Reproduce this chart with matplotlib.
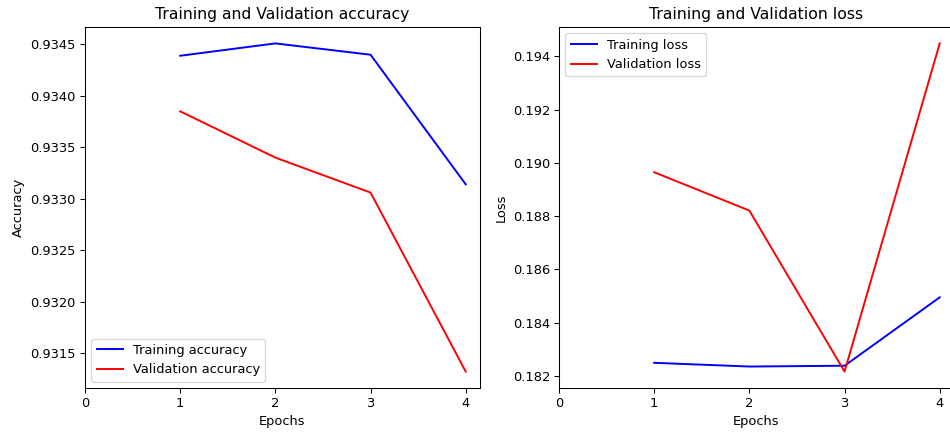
import matplotlib
matplotlib.use("Agg")
import matplotlib.pyplot as plt
from matplotlib.ticker import MaxNLocator

epochs = [1, 2, 3, 4]
train_acc = [0.93439, 0.93451, 0.93440, 0.93314]
val_acc = [0.93385, 0.93340, 0.93306, 0.93132]
train_loss = [0.18249, 0.18235, 0.18238, 0.18495]
val_loss = [0.18965, 0.18821, 0.18216, 0.19449]

W, H = 950, 434
DPI = 93.5
fig = plt.figure(figsize=(W / DPI, H / DPI), dpi=DPI)
ax1 = fig.add_axes([85 / W, (H - 388) / H, 395 / W, 361 / H])
ax2 = fig.add_axes([559 / W, (H - 388) / H, 395 / W, 361 / H])

ax1.plot(epochs, train_acc, color="blue", label="Training accuracy")
ax1.plot(epochs, val_acc, color="red", label="Validation accuracy")
ax1.set_xlim(left=0)
ax1.xaxis.set_major_locator(MaxNLocator(integer=True))
ax1.set_title("Training and Validation accuracy")
ax1.set_xlabel("Epochs")
ax1.set_ylabel("Accuracy")
ax1.legend(loc="lower left")

ax2.plot(epochs, train_loss, color="blue", label="Training loss")
ax2.plot(epochs, val_loss, color="red", label="Validation loss")
ax2.set_xlim(left=0)
ax2.xaxis.set_major_locator(MaxNLocator(integer=True))
ax2.set_title("Training and Validation loss")
ax2.set_xlabel("Epochs")
ax2.set_ylabel("Loss")
ax2.legend(loc="upper left")

fig.savefig("out.png", dpi=DPI)
